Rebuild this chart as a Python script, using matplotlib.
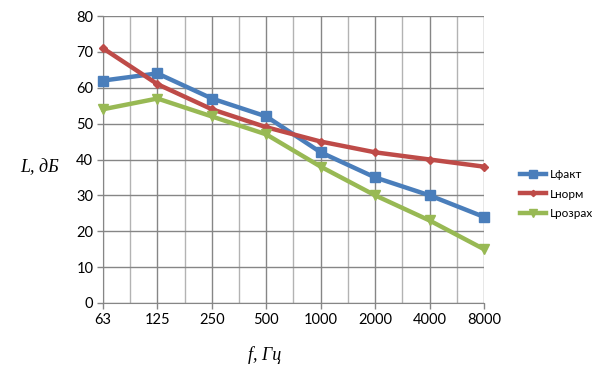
import matplotlib
matplotlib.use("Agg")
import matplotlib.pyplot as plt
from matplotlib.ticker import MultipleLocator

categories = ["63", "125", "250", "500", "1000", "2000", "4000", "8000"]
l_fakt = [62, 64, 57, 52, 42, 35, 30, 24]
l_norm = [71, 61, 54, 49, 45, 42, 40, 38]
l_rozrah = [54, 57, 52, 47, 38, 30, 23, 15]

fig = plt.figure(figsize=(6.05, 3.86), dpi=100)
ax = fig.add_axes([103/605, 1-303/386, (484-103)/605, (303-16)/386])

x = list(range(len(categories)))
ax.plot(x, l_fakt, color="#4a7ebb", lw=3.2, marker="s", ms=7, label="Lфакт", zorder=3, clip_on=False)
ax.plot(x, l_norm, color="#be4b48", lw=3.2, marker="D", ms=4, label="Lнорм", zorder=3, clip_on=False)
ax.plot(x, l_rozrah, color="#98b954", lw=3.2, marker="v", ms=7, label="Lрозрах", zorder=3, clip_on=False)

ax.set_xlim(0, len(categories)-1)
ax.set_ylim(0, 80)
ax.set_xticks(x)
ax.set_xticklabels(categories, fontfamily="Lato", fontsize=10.5)
ax.yaxis.set_major_locator(MultipleLocator(10))
for lab in ax.get_yticklabels():
    lab.set_fontfamily("Lato"); lab.set_fontsize(10.5)
ax.set_xticks([i + 0.5 for i in x[:-1]], minor=True)
ax.tick_params(axis="x", which="minor", length=0)
ax.tick_params(axis="both", which="major", length=4, color="#868686", width=1, pad=3)
ax.grid(axis="y", which="major", color="#868686", lw=1)
ax.grid(axis="x", which="major", color="#868686", lw=1)
ax.grid(axis="x", which="minor", color="#b3b3b3", lw=1)
ax.set_axisbelow(True)
for s in ["top", "right"]:
    ax.spines[s].set_visible(False)
for s in ["left", "bottom"]:
    ax.spines[s].set_color("#868686")

fig.text(40/605, 1-168/386, "L, дБ", fontfamily="Liberation Serif", fontstyle="italic",
         fontsize=13, ha="center", va="center")
fig.text(265/605, 1-355/386, "f, Гц", fontfamily="Liberation Serif", fontstyle="italic",
         fontsize=13, ha="center", va="center")

leg = fig.legend(loc="center left", bbox_to_anchor=(514/605, 1-194/386), frameon=False,
                 prop={"family": "Lato", "size": 8.5}, handlelength=2.2, labelspacing=0.7,
                 borderpad=0, handletextpad=0.3, markerscale=0.8)

fig.savefig("out.png", dpi=100)
